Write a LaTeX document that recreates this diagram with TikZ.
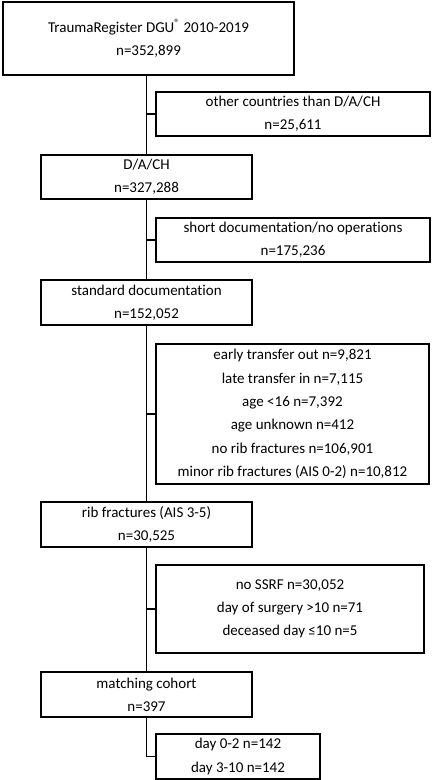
\documentclass[tikz,border=0pt]{standalone}
\usepackage{fontspec}
\setmainfont{Carlito}[Ligatures=NoCommon]
\usetikzlibrary{positioning}

\begin{document}
\begin{tikzpicture}[x=1pt, y=-1pt,
  line width=1.8pt,
  mainbox/.style={draw, align=center, inner sep=0pt, minimum width=211pt, minimum height=45pt, font=\fontsize{15}{23.3}\selectfont},
  sidebox/.style={mainbox, minimum width=274pt, minimum height=44pt}]
\useasboundingbox (0,0) rectangle (432,780);
% main column
\node[mainbox, minimum width=291pt, minimum height=73pt] (reg) at (148.5,38.5) {TraumaRegister DGU\textsuperscript{\textregistered} 2010-2019\\n=352,899};
\node[mainbox, minimum height=44pt] (dach) at (146.5,177) {D/A/CH\\n=327,288};
\node[mainbox] (std) at (146.5,302.5) {standard documentation\\n=152,052};
\node[mainbox] (rib) at (146.5,524.5) {rib fractures (AIS 3-5)\\n=30,525};
\node[mainbox] (match) at (146.5,694.5) {matching cohort\\n=397};
% excluded / side boxes
\node[sidebox] (other) at (293,114) {other countries than D/A/CH\\n=25,611};
\node[sidebox] (short) at (293,240) {short documentation/no operations\\n=175,236};
\node[sidebox, minimum width=273pt, minimum height=140pt] (excl) at (292.5,414) {early transfer out n=9,821\\late transfer in n=7,115\\age <16 n=7,392\\age unknown n=412\\no rib fractures n=106,901\\minor rib fractures (AIS 0-2) n=10,812};
\node[sidebox, minimum width=268pt, minimum height=88pt] (ssrf) at (290,609) {no SSRF n=30,052\\day of surgery >10 n=71\\deceased day ≤10 n=5};
\node[sidebox, minimum width=164pt, minimum height=45pt] (days) at (238,756.5) {day 0-2 n=142\\day 3-10 n=142};
% trunk
\draw (reg.south -| dach.north) -- (dach.north);
\draw (dach.south) -- (std.north);
\draw (std.south) -- (rib.north);
\draw (rib.south) -- (match.north);
\draw (match.south) |- (days.west);
\foreach \s in {other, short, excl, ssrf}
  \draw (\s.west) -- (\s.west -| dach.north);
\end{tikzpicture}
\end{document}
